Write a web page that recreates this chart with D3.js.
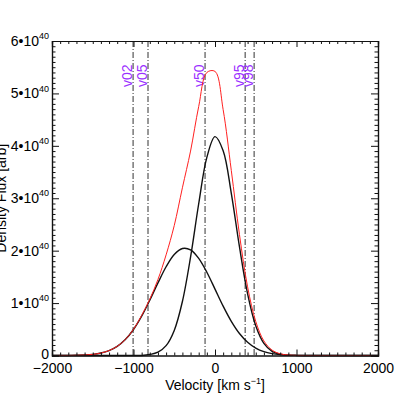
<!DOCTYPE html>
<html>
<head>
<meta charset="utf-8">
<script src="https://cdn.jsdelivr.net/npm/d3@7"></script>
<style>
  body { margin: 0; background: #fff; }
  text { font-family: "Liberation Sans", Arial, Helvetica, sans-serif; }
</style>
</head>
<body>
<script>
// velocity grid [km/s] and flux values in units of 1e40
var velocity = [-2000, -1900, -1800, -1700, -1600, -1500, -1400, -1300, -1200, -1100,
                -1000, -900, -800, -700, -600, -500, -400, -300, -200, -100,
                0, 100, 200, 300, 400, 500, 600, 700, 800, 900,
                1000, 1100, 1200, 1300, 1400, 1500, 1600, 1700, 1800, 1900, 2000];

var totalFlux = [0, 0.001, 0.001, 0.004, 0.009, 0.022, 0.047, 0.094, 0.175, 0.305,
                 0.500, 0.765, 1.075, 1.450, 1.920, 2.480, 3.200, 3.900, 4.750, 5.400,
                 5.420, 4.690, 3.530, 2.310, 1.310, 0.650, 0.277, 0.103, 0.033, 0.009,
                 0.002, 0, 0, 0, 0, 0, 0, 0, 0, 0, 0];

var broadFlux = [0, 0.001, 0.001, 0.004, 0.009, 0.022, 0.047, 0.094, 0.175, 0.305,
                 0.496, 0.750, 1.056, 1.385, 1.693, 1.927, 2.042, 2.017, 1.854, 1.588,
                 1.267, 0.941, 0.651, 0.419, 0.252, 0.141, 0.073, 0.036, 0.016, 0.007,
                 0.003, 0.001, 0, 0, 0, 0, 0, 0, 0, 0, 0];

var narrowFlux = [0, 0, 0, 0, 0, 0, 0, 0, 0, 0,
                  0, 0, 0.018, 0.063, 0.188, 0.479, 1.030, 1.877, 2.895, 3.779,
                  4.176, 3.907, 3.094, 2.075, 1.177, 0.566, 0.230, 0.079, 0.023, 0.006,
                  0.001, 0, 0, 0, 0, 0, 0, 0, 0, 0, 0];

// percentile velocities
var pctNames = ["v02", "v05", "v50", "v95", "v98"];
var pctVel = [-1005, -822, -122, 370, 480];

// ticks
var xMajor = [-2000, -1000, 0, 1000, 2000];
var yMajor = [0, 1, 2, 3, 4, 5, 6];

var svgWidth = 409, svgHeight = 409,
    margin = {top: 41, right: 31, bottom: 53.5, left: 52};
var width = svgWidth - margin.left - margin.right,
    height = svgHeight - margin.top - margin.bottom;

var svg = d3.select("body").append("svg")
    .attr("width", svgWidth)
    .attr("height", svgHeight);

var chart = svg.append("g")
    .attr("transform", "translate(" + margin.left + "," + margin.top + ")");

var xScale = d3.scaleLinear().domain([-2000, 2000]).range([0, width]);
var yScale = d3.scaleLinear().domain([0, 6]).range([height, 0]);

// minor tick positions from the major ones
var xMinor = [];
xMajor.slice(0, -1).forEach(function(m) {
  for (var i = 1; i < 10; i++) xMinor.push(m + i * 100);
});
var yMinor = [];
yMajor.slice(0, -1).forEach(function(m) {
  for (var i = 1; i < 10; i++) yMinor.push(m + i * 0.1);
});

// percentile lines
chart.selectAll(".pct")
  .data(pctVel)
  .enter().append("line")
    .attr("x1", function(d) { return xScale(d); })
    .attr("x2", function(d) { return xScale(d); })
    .attr("y1", 0)
    .attr("y2", height)
    .attr("stroke", "#333")
    .attr("stroke-width", 1)
    .attr("stroke-dasharray", "6,2,1,2");

chart.selectAll(".pctlabel")
  .data(pctVel)
  .enter().append("text")
    .attr("transform", function(d) { return "translate(" + (xScale(d) - 1) + ",46) rotate(-90)"; })
    .attr("fill", "#9b30ff")
    .attr("font-size", "14px")
    .text(function(d, i) { return pctNames[i]; });

var line = function(values) {
  return d3.line()
    .x(function(d, i) { return xScale(velocity[i]); })
    .y(function(d) { return yScale(d); })
    .curve(d3.curveCatmullRom.alpha(0.5))(values);
};

chart.append("path")
  .attr("d", line(broadFlux))
  .attr("fill", "none")
  .attr("stroke", "#111")
  .attr("stroke-width", 1.4);

chart.append("path")
  .attr("d", line(narrowFlux))
  .attr("fill", "none")
  .attr("stroke", "#111")
  .attr("stroke-width", 1.4);

chart.append("path")
  .attr("d", line(totalFlux))
  .attr("fill", "none")
  .attr("stroke", "#ff2020")
  .attr("stroke-width", 1);

// axes, ticks pointing inward on all four sides
function noLabel() { return ""; }

chart.append("g").attr("transform", "translate(0," + height + ")")
  .call(d3.axisBottom(xScale).tickValues(xMinor).tickSize(-3).tickFormat(noLabel));
chart.append("g").call(d3.axisTop(xScale).tickValues(xMinor).tickSize(-3).tickFormat(noLabel));
chart.append("g").call(d3.axisLeft(yScale).tickValues(yMinor).tickSize(-3.5).tickFormat(noLabel));
chart.append("g").attr("transform", "translate(" + width + ",0)")
  .call(d3.axisRight(yScale).tickValues(yMinor).tickSize(-3.5).tickFormat(noLabel));

var xAxis = chart.append("g").attr("class", "x-axis")
  .attr("transform", "translate(0," + height + ")")
  .call(d3.axisBottom(xScale).tickValues(xMajor).tickSize(-6).tickPadding(8)
        .tickFormat(function(d) { return d < 0 ? "\u2212" + Math.abs(d) : d; }));
chart.append("g").call(d3.axisTop(xScale).tickValues(xMajor).tickSize(-6).tickFormat(noLabel));

var yAxis = chart.append("g").attr("class", "y-axis")
  .call(d3.axisLeft(yScale).tickValues(yMajor).tickSize(-7).tickPadding(3).tickFormat(noLabel));
chart.append("g").attr("transform", "translate(" + width + ",0)")
  .call(d3.axisRight(yScale).tickValues(yMajor).tickSize(-7).tickFormat(noLabel));

chart.selectAll(".domain").attr("stroke", "#111").attr("stroke-width", 1.2);
chart.selectAll(".tick line").attr("stroke", "#111");
xAxis.selectAll("text").attr("font-size", "14px").attr("fill", "#000");

// y labels like 6•10^40
yAxis.selectAll(".tick text").each(function(d) {
  var t = d3.select(this).attr("font-size", "14px").attr("fill", "#000").attr("dy", "0.32em");
  if (d === 0) { t.attr("dy", "0.2em").text("0"); return; }
  t.append("tspan").text(d + "\u202210");
  t.append("tspan").attr("font-size", "9px").attr("dy", "-0.75em").text("40");
});

// axis titles
var xt = svg.append("text")
  .attr("x", margin.left + width / 2)
  .attr("y", 390)
  .attr("text-anchor", "middle")
  .attr("font-size", "14px");
xt.append("tspan").text("Velocity [km s");
xt.append("tspan").attr("font-size", "9px").attr("dy", "-6").text("\u22121");
xt.append("tspan").attr("dy", "6").text("]");

svg.append("text")
  .attr("transform", "translate(6," + (margin.top + height / 2) + ") rotate(-90)")
  .attr("text-anchor", "middle")
  .attr("font-size", "14px")
  .text("Density Flux [arb]");
</script>
</body>
</html>
